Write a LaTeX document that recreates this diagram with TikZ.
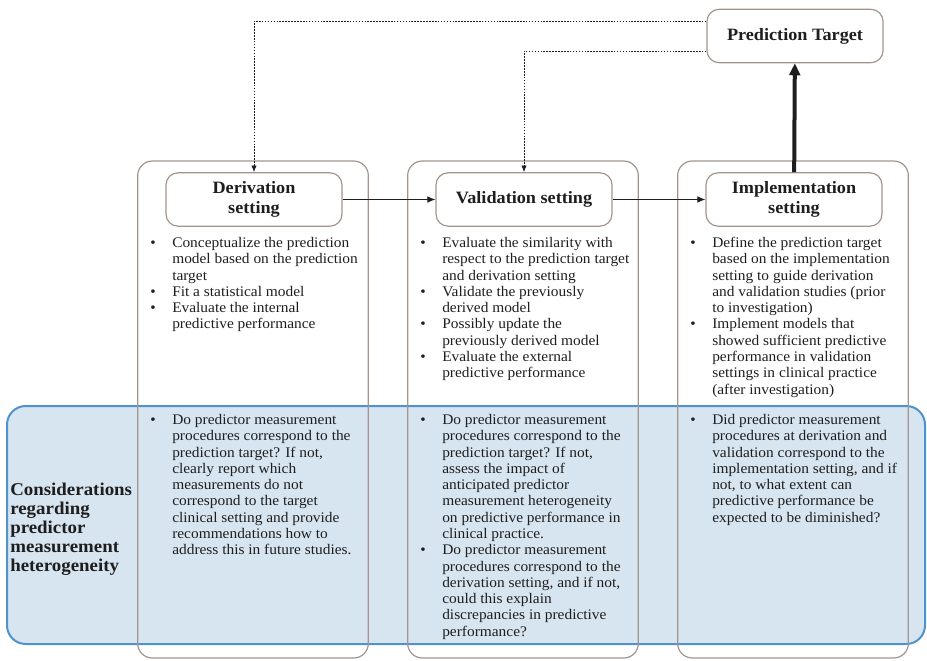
\documentclass[tikz,border=0pt]{standalone}
\usepackage{fontspec}
\setmainfont{Liberation Serif}[FakeStretch=1.05]
\usetikzlibrary{arrows.meta}
\definecolor{ink}{HTML}{1E1E1E}
\definecolor{frame}{HTML}{A3948E}
\definecolor{band}{HTML}{D7E5F1}
\definecolor{bandline}{HTML}{4F93CC}

\begin{document}
\begin{tikzpicture}[x=0.75pt, y=-0.75pt, ink,
          col/.style={draw=frame, line width=0.9pt, rounded corners=11pt, minimum width=173pt, minimum height=372.75pt, inner sep=0pt},
          ttl/.style={draw=frame, line width=0.9pt, fill=white, rounded corners=9pt, minimum width=132pt, minimum height=40pt, align=center, inner sep=2pt, font=\fontsize{13}{14.5}\selectfont\bfseries},
          txt/.style={anchor=north west, inner sep=0pt, font=\fontsize{11}{12.2}\selectfont},
          dots/.style={line width=0.6pt, dash pattern=on 1.2pt off 1pt, -{Latex[length=5pt,width=4pt]}},
          flow/.style={line width=0.8pt, -{Latex[length=6pt,width=5pt]}}]
        \useasboundingbox (0,0) rectangle (927,660);
        % blue band behind the columns
        \draw[bandline, fill=band, line width=1.5pt, rounded corners=14pt] (7,406) rectangle (925,644);
        \foreach \n/\x/\t in {d/253/{Derivation\\setting}, v/523/{Validation setting}, i/793/{Implementation\\setting}}{
          \node[col] (\n col) at (\x,409.5) {};
          \node[ttl] (\n ttl) at (\x+1,199.5) {\t};}
        \node[ttl] (pt) at (795,36) {Prediction Target};
        % upper lists
        \node[txt] (dup) at (150,236) {\begin{tabular}{@{}p{16.5pt}@{}l@{}}
          \textbullet & Conceptualize the prediction\\
           & model based on the prediction\\
           & target\\
          \textbullet & Fit a statistical model\\
          \textbullet & Evaluate the internal\\
           & predictive performance
          \end{tabular}};
        \node[txt] (vup) at (420,236) {\begin{tabular}{@{}p{16.5pt}@{}l@{}}
          \textbullet & Evaluate the similarity with\\
           & respect to the prediction target\\
           & and derivation setting\\
          \textbullet & Validate the previously\\
           & derived model\\
          \textbullet & Possibly update the\\
           & previously derived model\\
          \textbullet & Evaluate the external\\
           & predictive performance
          \end{tabular}};
        \node[txt] (iup) at (690,236) {\begin{tabular}{@{}p{16.5pt}@{}l@{}}
          \textbullet & Define the prediction target\\
           & based on the implementation\\
           & setting to guide derivation\\
           & and validation studies (prior\\
           & to investigation)\\
          \textbullet & Implement models that\\
           & showed sufficient predictive\\
           & performance in validation\\
           & settings in clinical practice\\
           & (after investigation)
          \end{tabular}};
        % lower lists
        \node[txt] (dlo) at (150,413) {\begin{tabular}{@{}p{16.5pt}@{}l@{}}
          \textbullet & Do predictor measurement\\
           & procedures correspond to the\\
           & prediction target? If not,\\
           & clearly report which\\
           & measurements do not\\
           & correspond to the target\\
           & clinical setting and provide\\
           & recommendations how to\\
           & address this in future studies.
          \end{tabular}};
        \node[txt] (vlo) at (420,413) {\begin{tabular}{@{}p{16.5pt}@{}l@{}}
          \textbullet & Do predictor measurement\\
           & procedures correspond to the\\
           & prediction target? If not,\\
           & assess the impact of\\
           & anticipated predictor\\
           & measurement heterogeneity\\
           & on predictive performance in\\
           & clinical practice.\\
          \textbullet & Do predictor measurement\\
           & procedures correspond to the\\
           & derivation setting, and if not,\\
           & could this explain\\
           & discrepancies in predictive\\
           & performance?
          \end{tabular}};
        \node[txt] (ilo) at (690,413) {\begin{tabular}{@{}p{16.5pt}@{}l@{}}
          \textbullet & Did predictor measurement\\
           & procedures at derivation and\\
           & validation correspond to the\\
           & implementation setting, and if\\
           & not, to what extent can\\
           & predictive performance be\\
           & expected to be diminished?
          \end{tabular}};
        \node[anchor=west, align=left, inner sep=0pt, font=\fontsize{13.5}{14.3}\selectfont\bfseries] (lbl) at (10,529)
          {Considerations\\regarding\\predictor\\measurement\\heterogeneity};
        % connectors
        \draw[dots] ([yshift=11.25pt]pt.west) -| (dttl.north);
        \draw[dots] ([yshift=-11.25pt]pt.west) -| (vttl.north);
        \draw[flow] (dttl) -- (vttl);
        \draw[flow] (vttl) -- (ittl);
        \draw[line width=3pt, -{Triangle[length=9pt,width=8pt]}] (ittl) -- (pt);
      \end{tikzpicture}
\end{document}
